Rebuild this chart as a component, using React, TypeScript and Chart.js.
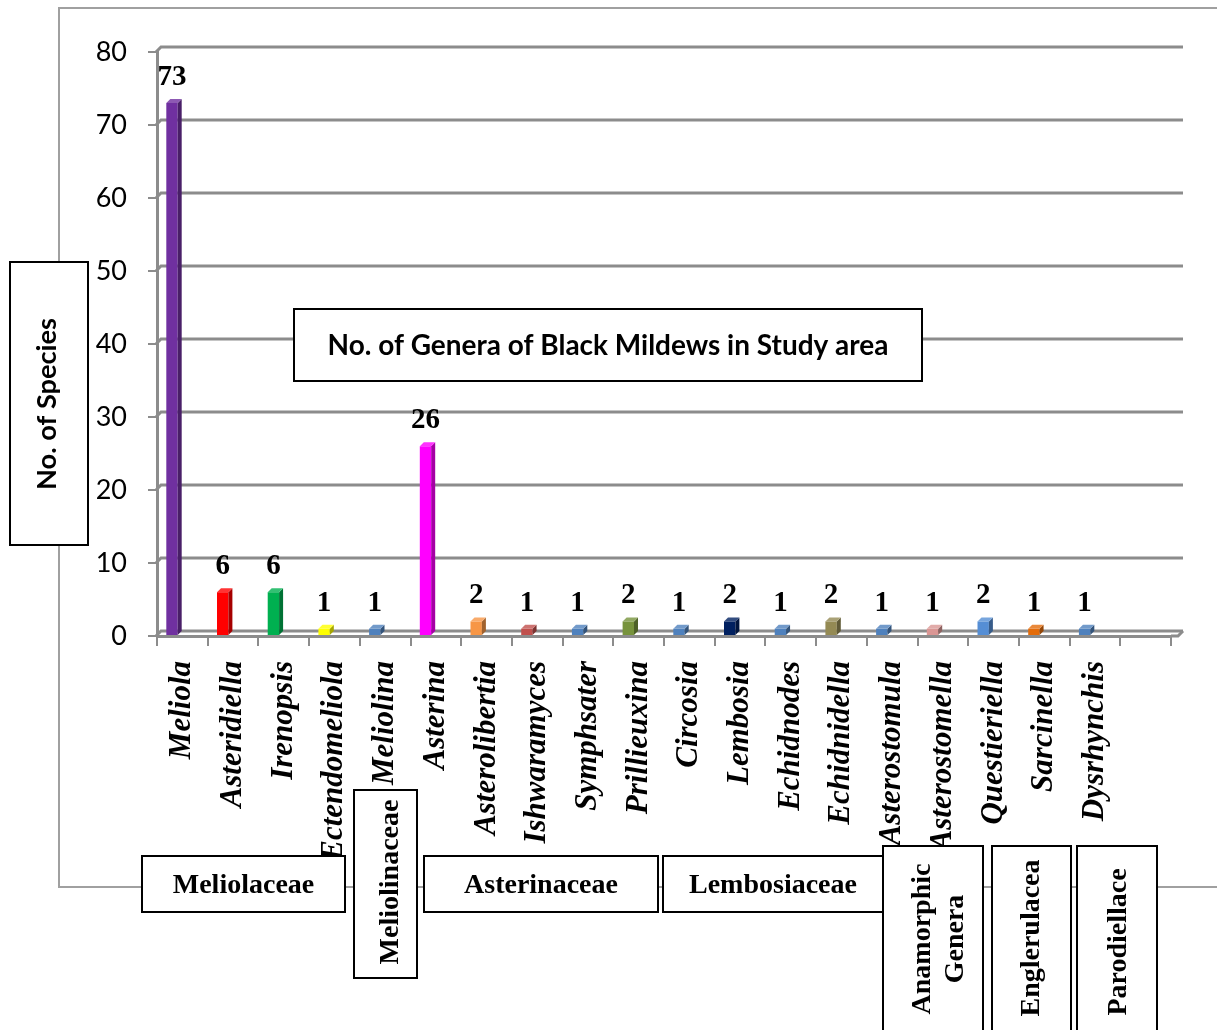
import React, { useEffect, useRef } from "react";
import { Chart, registerables } from "chart.js";

Chart.register(...registerables);

const genera = [
  "Meliola", "Asteridiella", "Irenopsis", "Ectendomeliola", "Meliolina",
  "Asterina", "Asterolibertia", "Ishwaramyces", "Symphsater", "Prillieuxina",
  "Circosia", "Lembosia", "Echidnodes", "Echidnidella", "Asterostomula",
  "Asterostomella", "Questieriella", "Sarcinella", "Dysrhynchis", "",
];

const speciesCount: (number | null)[] = [
  73, 6, 6, 1, 1, 26, 2, 1, 1, 2, 1, 2, 1, 2, 1, 1, 2, 1, 1, null,
];

const barColors = [
  "#7030A0", "#FF0000", "#00B050", "#FFFF00", "#4F81BD",
  "#FF00FF", "#F79646", "#C0504D", "#4F81BD", "#77933C",
  "#4F81BD", "#002060", "#4F81BD", "#948A54", "#4F81BD",
  "#DA9694", "#558ED5", "#E46C0A", "#4F81BD", "#4F81BD",
];

const familyNames = [
  "Meliolaceae", "Meliolinaceae", "Asterinaceae", "Lembosiaceae",
  "Anamorphic", "Genera", "Englerulacea", "Parodiellace",
];

const chartTitle = "No. of Genera of Black Mildews in Study area";
const yAxisTitle = "No. of Species";

const SERIF = "'Liberation Serif', 'Times New Roman', serif";
const SANS = "Lato, 'Open Sans', sans-serif";

function shade(hex: string, f: number): string {
  const n = parseInt(hex.slice(1), 16);
  const c = [(n >> 16) & 255, (n >> 8) & 255, n & 255].map((v) =>
    f <= 1 ? Math.round(v * f) : Math.round(v + (255 - v) * (f - 1))
  );
  return `rgb(${c[0]},${c[1]},${c[2]})`;
}

function box(ctx: CanvasRenderingContext2D, x1: number, y1: number, x2: number, y2: number) {
  ctx.fillStyle = "#ffffff";
  ctx.fillRect(x1, y1, x2 - x1, y2 - y1);
  ctx.strokeStyle = "#000000";
  ctx.lineWidth = 2;
  ctx.strokeRect(x1, y1, x2 - x1, y2 - y1);
}

function vText(ctx: CanvasRenderingContext2D, text: string, baseX: number, cy: number) {
  ctx.save();
  ctx.translate(baseX, cy);
  ctx.rotate(-Math.PI / 2);
  ctx.textAlign = "center";
  ctx.textBaseline = "alphabetic";
  ctx.fillText(text, 0, 0);
  ctx.restore();
}

function fitFont(ctx: CanvasRenderingContext2D, text: string, weight: string, family: string, target: number) {
  ctx.font = `${weight} 20px ${family}`;
  const w = ctx.measureText(text).width;
  const size = (20 * target) / w;
  ctx.font = `${weight} ${size}px ${family}`;
}

const decoPlugin = {
  id: "deco",
  beforeDraw(chart: any) {
    const ctx: CanvasRenderingContext2D = chart.ctx;
    ctx.save();
    ctx.fillStyle = "#ffffff";
    ctx.fillRect(0, 0, chart.width, chart.height);
    ctx.strokeStyle = "#a0a0a0";
    ctx.lineWidth = 2;
    ctx.beginPath();
    ctx.moveTo(1217, 8);
    ctx.lineTo(59, 8);
    ctx.lineTo(59, 887);
    ctx.lineTo(1217, 887);
    ctx.stroke();
    ctx.restore();
  },
  beforeDatasetsDraw(chart: any) {
    const ctx: CanvasRenderingContext2D = chart.ctx;
    const ys = chart.scales.y;
    const { left, right, bottom } = chart.chartArea;
    ctx.save();
    ctx.strokeStyle = "#8c8c8c";
    ctx.lineWidth = 3;
    ctx.lineCap = "butt";
    for (const v of ys.ticks.map((t: any) => t.value)) {
      const py = ys.getPixelForValue(v);
      ctx.beginPath();
      ctx.moveTo(left - 1, py);
      ctx.lineTo(left + 4, py - 5);
      ctx.lineTo(right + 12, py - 5);
      ctx.stroke();
    }
    ctx.beginPath();
    ctx.moveTo(right, bottom);
    ctx.lineTo(right + 7, bottom);
    ctx.lineTo(right + 12, bottom - 5);
    ctx.stroke();
    ctx.restore();
  },
  afterDatasetsDraw(chart: any) {
    const ctx: CanvasRenderingContext2D = chart.ctx;
    const meta = chart.getDatasetMeta(0);
    ctx.save();
    meta.data.forEach((bar: any, i: number) => {
      const v = speciesCount[i];
      if (v == null) return;
      const { x, y, base, width } = bar.getProps(["x", "y", "base", "width"], true);
      const l = x - width / 2;
      const r = x + width / 2;
      const d = 4;
      ctx.fillStyle = shade(barColors[i], 0.65);
      ctx.beginPath();
      ctx.moveTo(r, y);
      ctx.lineTo(r + d, y - d);
      ctx.lineTo(r + d, base - d);
      ctx.lineTo(r, base);
      ctx.closePath();
      ctx.fill();
      ctx.fillStyle = shade(barColors[i], 1.2);
      ctx.beginPath();
      ctx.moveTo(l, y);
      ctx.lineTo(l + d, y - d);
      ctx.lineTo(r + d, y - d);
      ctx.lineTo(r, y);
      ctx.closePath();
      ctx.fill();
      ctx.fillStyle = "#000000";
      ctx.font = `bold 29px ${SERIF}`;
      ctx.textAlign = "center";
      ctx.textBaseline = "alphabetic";
      ctx.fillText(String(v), x, y - 18);
    });
    ctx.restore();
  },
  afterDraw(chart: any) {
    const ctx: CanvasRenderingContext2D = chart.ctx;
    ctx.save();
    ctx.fillStyle = "#000";

    // Y axis title box
    box(ctx, 10, 262, 88, 545);
    ctx.fillStyle = "#000";
    fitFont(ctx, yAxisTitle, "bold", SANS, 172);
    vText(ctx, yAxisTitle, 56, 404);

    // Chart title box
    box(ctx, 294, 309, 922, 381);
    ctx.fillStyle = "#000";
    fitFont(ctx, chartTitle, "bold", SANS, 561);
    ctx.textAlign = "center";
    ctx.textBaseline = "alphabetic";
    ctx.fillText(chartTitle, 608, 355);

    // Family boxes
    ctx.font = `bold 28px ${SERIF}`;
    const horiz: [number, number, number][] = [
      [142, 345, 0],
      [424, 658, 2],
      [663, 883, 3],
    ];
    for (const [x1, x2, idx] of horiz) {
      box(ctx, x1, 856, x2, 912);
      ctx.fillStyle = "#000";
      ctx.textAlign = "center";
      ctx.textBaseline = "alphabetic";
      ctx.fillText(familyNames[idx], (x1 + x2) / 2, 893);
    }
    box(ctx, 354, 790, 417, 978);
    ctx.fillStyle = "#000";
    vText(ctx, familyNames[1], 398, 882);

    box(ctx, 883, 846, 983, 1040);
    ctx.fillStyle = "#000";
    vText(ctx, familyNames[4], 930, 939);
    vText(ctx, familyNames[5], 963, 939);

    box(ctx, 992, 846, 1071, 1040);
    ctx.fillStyle = "#000";
    vText(ctx, familyNames[6], 1039, 938);

    box(ctx, 1077, 846, 1157, 1040);
    ctx.fillStyle = "#000";
    vText(ctx, familyNames[7], 1126, 942);

    ctx.restore();
  },
};

export default function App() {
  const ref = useRef<HTMLCanvasElement>(null);
  useEffect(() => {
    if (!ref.current) return;
    const chart = new Chart(ref.current, {
      type: "bar",
      data: {
        labels: genera,
        datasets: [
          {
            label: "No. of Species",
            data: speciesCount,
            backgroundColor: barColors,
            borderWidth: 0,
            categoryPercentage: 0.8166,
            barPercentage: 0.55,
          } as any,
          {
            label: "",
            data: [],
            categoryPercentage: 0.8166,
            barPercentage: 0.55,
          } as any,
        ],
      },
      options: {
        responsive: false,
        animation: false,
        devicePixelRatio: 1,
        layout: { padding: { left: 0, top: 52, right: 46, bottom: 0 } },
        plugins: {
          legend: { display: false },
          tooltip: { enabled: false },
          title: { display: false },
        },
        scales: {
          x: {
            grid: {
              offset: true,
              drawOnChartArea: false,
              drawTicks: true,
              tickLength: 10,
              color: "#8c8c8c",
              lineWidth: 2,
            },
            border: { display: true, color: "#8c8c8c", width: 3 },
            ticks: {
              autoSkip: false,
              minRotation: 90,
              maxRotation: 90,
              padding: 15,
              color: "#000",
              font: { family: SERIF, size: 31, style: "italic", weight: "bold" },
            },
            afterFit: (s: any) => {
              s.height = 394;
            },
          },
          y: {
            min: 0,
            max: 80,
            grid: {
              drawOnChartArea: false,
              drawTicks: true,
              tickLength: 9,
              color: "#8c8c8c",
              lineWidth: 2,
            },
            border: { display: true, color: "#8c8c8c", width: 3 },
            ticks: {
              stepSize: 10,
              padding: 21,
              color: "#000",
              font: { family: SANS, size: 27 },
            },
            afterFit: (s: any) => {
              s.width = 157;
            },
          },
        },
      } as any,
      plugins: [decoPlugin],
    });
    return () => chart.destroy();
  }, []);
  return (
    <div style={{ position: "absolute", left: 0, top: 0, width: 1217, height: 1030, background: "#fff" }}>
      <canvas ref={ref} width={1217} height={1030} style={{ display: "block", width: 1217, height: 1030 }} />
    </div>
  );
}
